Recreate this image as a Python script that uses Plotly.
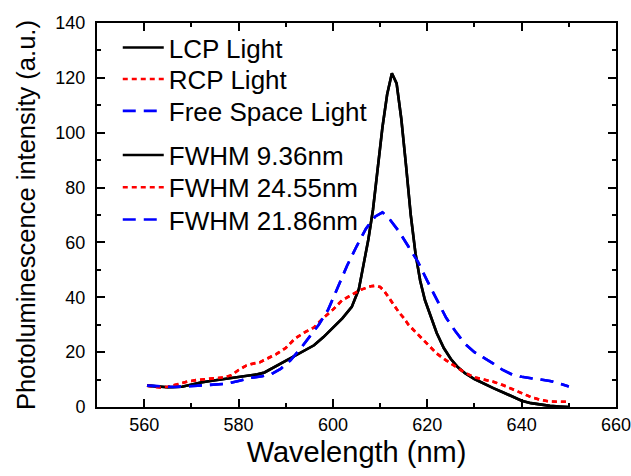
import plotly.graph_objects as go

# LCP Light (black solid)
lcp_wl = [560.6, 563, 565, 568, 570, 572, 574, 576, 578, 580, 582, 584, 585.5, 587, 588.5, 590,
          592, 594, 596, 598, 600, 602, 604, 605.5, 606.5, 607.5, 608.5, 609.5, 610.5, 611.5,
          612.5, 613.5, 614.5, 615.5, 616.5, 617.5, 618.5, 619.5, 620.5, 622, 623.5, 625, 626.5,
          628, 630, 632, 634, 636, 638, 640, 642, 644, 646, 648, 650]
lcp_val = [7.8, 7.4, 7.2, 7.4, 8.2, 8.9, 9.5, 10.0, 10.4, 11.1, 11.5, 11.9, 12.6, 14.0, 15.6, 17.0,
           18.8, 20.6, 22.5, 25.5, 28.8, 32.3, 36.5, 43, 52, 61, 72, 88, 102, 114,
           121.7, 118, 105, 88, 70, 56, 46, 39, 34, 27, 21.5, 17.5, 14.5,
           12.3, 10.2, 8.4, 6.9, 5.4, 3.8, 2.3, 1.4, 0.8, 0.4, 0.2, 0.0]

# RCP Light (red dotted)
rcp_wl = [560.6, 562, 563.5, 565, 567, 569, 571, 573, 575, 577, 578.5, 580, 581.5, 583, 584.5, 586,
          588, 590, 592, 594, 596, 598, 600, 602, 604, 606, 608, 609, 610, 611, 612, 613, 614, 615,
          616, 618, 620, 622, 624, 626, 628, 630, 632, 634, 636, 638, 640, 642, 644, 646, 648, 650]
rcp_val = [7.8, 7.4, 7.1, 7.4, 8.3, 9.2, 9.8, 10.2, 10.5, 10.8, 11.6, 13.5, 15.0, 15.8, 16.3, 17.5,
           19.3, 21.5, 25.0, 27.2, 29.0, 32.5, 35.5, 39.0, 41.0, 42.8, 44.0, 44.2, 43.8, 42, 39.5, 37, 34.5, 32.5,
           30, 26.5, 23, 19.5, 17, 14.8, 12.5, 10.8, 10.0, 9.2, 8.0, 6.5, 5.0, 3.6, 2.6, 2.0, 1.9, 1.9]

# Free Space Light (blue dashed)
fs_wl = [560.6, 563, 566, 569, 572, 575, 577.5, 580, 582.5, 585, 587, 589, 591, 593, 595, 597, 599,
         601, 603, 605, 607, 609, 610.5, 612, 614, 616, 618, 620, 622, 624, 626, 628, 630, 632, 634,
         636, 638, 640, 642, 644, 646, 648, 650]
fs_val = [7.8, 7.5, 7.3, 7.5, 7.8, 8.1, 8.5, 9.5, 10.6, 11.2, 12.0, 14.0, 17.0, 21.0, 25.5, 30.0, 35.5,
          43.5, 51.5, 58.5, 65.0, 69.5, 71.0, 68.5, 64.0, 58.5, 53.0, 46.0, 39.0, 32.5, 27.5, 23.0, 20.0, 18.0, 15.8,
          13.5, 11.8, 11.0, 10.5, 9.8, 9.5, 8.6, 7.5]

x_ticks = [560, 580, 600, 620, 640, 660]
y_ticks = [0, 20, 40, 60, 80, 100, 120, 140]

FONT = "Liberation Sans, Arial, sans-serif"

series = [
    ("LCP Light", lcp_wl, lcp_val, "black", "solid"),
    ("RCP Light", rcp_wl, rcp_val, "red", "5px,4px"),
    ("Free Space Light", fs_wl, fs_val, "blue", "13px,8px"),
    ("FWHM 9.36nm", lcp_wl, lcp_val, "black", "solid"),
    ("FWHM 24.55nm", rcp_wl, rcp_val, "red", "5px,4px"),
    ("FWHM 21.86nm", fs_wl, fs_val, "blue", "13px,8px"),
]
legend_y = [0.936, 0.854, 0.771, 0.656, 0.572, 0.488]
legend_ids = ["legend", "legend2", "legend3", "legend4", "legend5", "legend6"]

fig = go.Figure()
for (name, xs, ys, col, dash), lid in zip(series, legend_ids):
    fig.add_trace(go.Scatter(x=xs, y=ys, mode="lines", name=name, legend=lid,
                             line=dict(color=col, dash=dash, width=2.6)))

# invisible helper trace so the mirrored top/right axes get drawn
fig.add_trace(go.Scatter(x=[None], y=[None], xaxis="x2", yaxis="y2", showlegend=False,
                         hoverinfo="skip"))

tick_common = dict(
    showline=True, linecolor="black", linewidth=2,
    ticks="inside", ticklen=8, tickwidth=2, tickcolor="black",
    showgrid=False, zeroline=False, automargin=False,
    tickfont=dict(family=FONT, size=18, color="black"),
)

fig.update_layout(
    xaxis=dict(range=[550, 660], tickvals=x_ticks, ticktext=[str(v) for v in x_ticks],
               minor=dict(dtick=10, tick0=550, ticks="inside", ticklen=4, tickwidth=2, tickcolor="black"),
               title=dict(text="Wavelength (nm)", font=dict(family=FONT, size=29, color="black"), standoff=8),
               ticklabelstandoff=0, ticklabeloverflow="allow", **tick_common),
    yaxis=dict(range=[0, 140], tickvals=y_ticks, ticktext=[str(v) for v in y_ticks],
               minor=dict(dtick=10, tick0=0, ticks="inside", ticklen=4, tickwidth=2, tickcolor="black"),
               title=dict(text="Photoluminescence intensity (a.u.)", font=dict(family=FONT, size=25.5, color="black"), standoff=12),
               ticklabelstandoff=6, ticklabeloverflow="allow", **tick_common),
    xaxis2=dict(range=[550, 660], overlaying="x", side="top", anchor="y", tickvals=x_ticks,
                showticklabels=False,
                minor=dict(dtick=10, tick0=550, ticks="inside", ticklen=4, tickwidth=2, tickcolor="black"),
                **tick_common),
    yaxis2=dict(range=[0, 140], overlaying="y", side="right", anchor="x", tickvals=y_ticks,
                showticklabels=False,
                minor=dict(dtick=10, tick0=0, ticks="inside", ticklen=4, tickwidth=2, tickcolor="black"),
                **tick_common),
    width=631, height=476,
    margin=dict(l=97, r=15, t=23, b=69, autoexpand=False),
    paper_bgcolor="white", plot_bgcolor="white",
    showlegend=True,
    font=dict(family=FONT, color="black"),
)

for lid, ly in zip(legend_ids, legend_y):
    fig.update_layout({lid: dict(x=0.04, y=ly, xanchor="left", yanchor="middle",
                                 bgcolor="rgba(0,0,0,0)", borderwidth=0, itemwidth=41,
                                 font=dict(family=FONT, size=26, color="black"))})

fig.write_html("out.html", config={"displayModeBar": False},
               post_script="document.body.style.margin='0';document.body.style.overflow='hidden';")
